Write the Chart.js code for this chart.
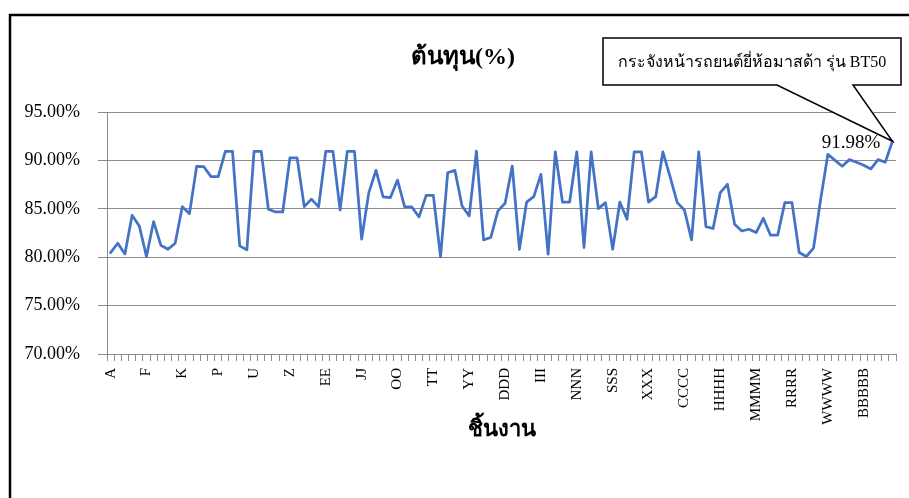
<!DOCTYPE html>
<html>
<head>
<meta charset="utf-8">
<script src="https://cdn.jsdelivr.net/npm/chart.js@4.4.0/dist/chart.umd.min.js"></script>
<style>
  html, body { margin: 0; padding: 0; background: #fff; }
  #wrap { width: 909px; height: 498px; }
</style>
</head>
<body>
<div id="wrap"><canvas id="myChart" width="909" height="498"></canvas></div>
<script>
var categories = [
  'A','B','C','D','E','F','G','H','I','J','K','L','M','N','O','P','Q','R','S','T','U','V','W','X','Y','Z',
  'AA','BB','CC','DD','EE','FF','GG','HH','II','JJ','KK','LL','MM','NN','OO','PP','QQ','RR','SS','TT','UU','VV','WW','XX','YY','ZZ',
  'AAA','BBB','CCC','DDD','EEE','FFF','GGG','HHH','III','JJJ','KKK','LLL','MMM','NNN','OOO','PPP','QQQ','RRR','SSS','TTT','UUU','VVV','WWW','XXX','YYY','ZZZ',
  'AAAA','BBBB','CCCC','DDDD','EEEE','FFFF','GGGG','HHHH','IIII','JJJJ','KKKK','LLLL','MMMM','NNNN','OOOO','PPPP','QQQQ','RRRR','SSSS','TTTT','UUUU','VVVV','WWWW','XXXX','YYYY','ZZZZ',
  'AAAAA','BBBBB','CCCCC','DDDDD','EEEEE','FFFFF'
];

// ต้นทุน (%) per piece
var costPct = [
  80.48, 81.44, 80.34, 84.33, 83.23, 80.07, 83.68, 81.24, 80.82, 81.44,
  85.22, 84.50, 89.38, 89.35, 88.32, 88.32, 90.93, 90.93, 81.17, 80.76,
  90.93, 90.93, 84.95, 84.67, 84.67, 90.27, 90.27, 85.22, 86.00, 85.20,
  90.93, 90.93, 84.88, 90.93, 90.93, 81.86, 86.67, 88.97, 86.22, 86.15,
  87.97, 85.19, 85.19, 84.16, 86.39, 86.39, 80.03, 88.73, 88.97, 85.29,
  84.26, 90.96, 81.79, 82.03, 84.78, 85.57, 89.42, 80.82, 85.70, 86.25,
  88.56, 80.31, 90.89, 85.70, 85.70, 90.89, 81.00, 90.89, 85.02, 85.64,
  80.82, 85.70, 83.92, 90.89, 90.89, 85.70, 86.25, 90.89, 88.32, 85.64,
  84.88, 81.79, 90.89, 83.16, 82.96, 86.67, 87.53, 83.40, 82.71, 82.89,
  82.54, 84.02, 82.27, 82.27, 85.64, 85.64, 80.48, 80.07, 80.93, 86.00,
  90.62, 90.00, 89.40, 90.08, 89.80, 89.50, 89.12, 90.08, 89.80, 91.98
];

var yTicks = [70, 75, 80, 85, 90, 95];
var chartTitle = 'ต้นทุน(%)';
var xTitle = 'ชิ้นงาน';
var calloutText = 'กระจังหน้ารถยนต์ยี่ห้อมาสด้า รุ่น BT50';
var labelIndex = costPct.length - 1;

var serif = "'Liberation Serif', 'Times New Roman', serif";
var gridGrey = '#8c8c8c';

var extras = {
  id: 'extras',
  beforeDraw: function(chart) {
    var c = chart.ctx;
    c.save();
    c.fillStyle = '#fff';
    c.fillRect(0, 0, chart.width, chart.height);
    c.restore();
  },
  afterDraw: function(chart) {
    var c = chart.ctx;
    var xs = chart.scales.x, ys = chart.scales.y;
    c.save();

    // frame of the chart object
    c.strokeStyle = '#000';
    c.lineWidth = 2.5;
    c.beginPath();
    c.moveTo(10, chart.height + 5);
    c.lineTo(10, 15);
    c.lineTo(chart.width + 5, 15);
    c.stroke();

    // title
    c.fillStyle = '#000';
    c.font = 'bold 24px ' + serif;
    c.textAlign = 'center';
    c.textBaseline = 'middle';
    c.fillText(chartTitle, 463, 58);

    // data label + callout for the last point
    var px = xs.getPixelForValue(labelIndex);
    var py = ys.getPixelForValue(costPct[labelIndex]);

    c.font = '19px ' + serif;
    c.textAlign = 'right';
    c.fillText(costPct[labelIndex].toFixed(2) + '%', px - 12, py + 2);

    var bl = 603, br = 901, bt = 38, bb = 85;
    c.beginPath();
    c.moveTo(bl, bt);
    c.lineTo(br, bt);
    c.lineTo(br, bb);
    c.lineTo(853, bb);
    c.lineTo(px, py);
    c.lineTo(777, bb);
    c.lineTo(bl, bb);
    c.closePath();
    c.fillStyle = '#fff';
    c.fill();
    c.lineWidth = 1.5;
    c.strokeStyle = '#000';
    c.stroke();

    c.fillStyle = '#000';
    c.font = '16px ' + serif;
    c.textAlign = 'center';
    c.fillText(calloutText, (bl + br) / 2, (bt + bb) / 2 + 1);
    c.restore();
  }
};

var ctx = document.getElementById('myChart').getContext('2d');
var myChart = new Chart(ctx, {
  type: 'line',
  data: {
    labels: categories,
    datasets: [{
      data: costPct,
      borderColor: '#4472C4',
      backgroundColor: '#4472C4',
      borderWidth: 2.75,
      borderJoinStyle: 'round',
      borderCapStyle: 'round',
      pointRadius: 0,
      tension: 0,
      fill: false
    }]
  },
  options: {
    responsive: false,
    animation: false,
    layout: { padding: { left: 0, right: 13, top: 112, bottom: 0 } },
    plugins: {
      legend: { display: false },
      title: { display: false },
      tooltip: { enabled: false }
    },
    scales: {
      x: {
        offset: true,
        grid: { offset: true, drawOnChartArea: false, drawTicks: true, tickLength: 7, color: gridGrey },
        border: { color: gridGrey, width: 1 },
        ticks: {
          autoSkip: false,
          maxRotation: 90,
          minRotation: 90,
          padding: 7,
          color: '#000',
          font: { family: serif, size: 15 },
          callback: function(v, i) { return i % 5 === 0 ? categories[i] : ''; }
        },
        title: {
          display: true,
          text: xTitle,
          color: '#000',
          font: { family: serif, size: 22, weight: 'bold' },
          padding: { top: 0, bottom: 54 }
        },
        afterFit: function(s) {
          s.height = 144;
          s.paddingLeft = 0;
          s.paddingRight = 0;
        }
      },
      y: {
        min: yTicks[0],
        max: yTicks[yTicks.length - 1],
        afterBuildTicks: function(s) { s.ticks = yTicks.map(function(v) { return { value: v }; }); },
        grid: { color: gridGrey, tickLength: 9 },
        border: { color: gridGrey, width: 1 },
        ticks: {
          padding: 18,
          color: '#000',
          font: { family: serif, size: 18 },
          callback: function(v) { return v.toFixed(2) + '%'; }
        },
        afterFit: function(s) { s.width = 107; }
      }
    }
  },
  plugins: [extras]
});
</script>
</body>
</html>
